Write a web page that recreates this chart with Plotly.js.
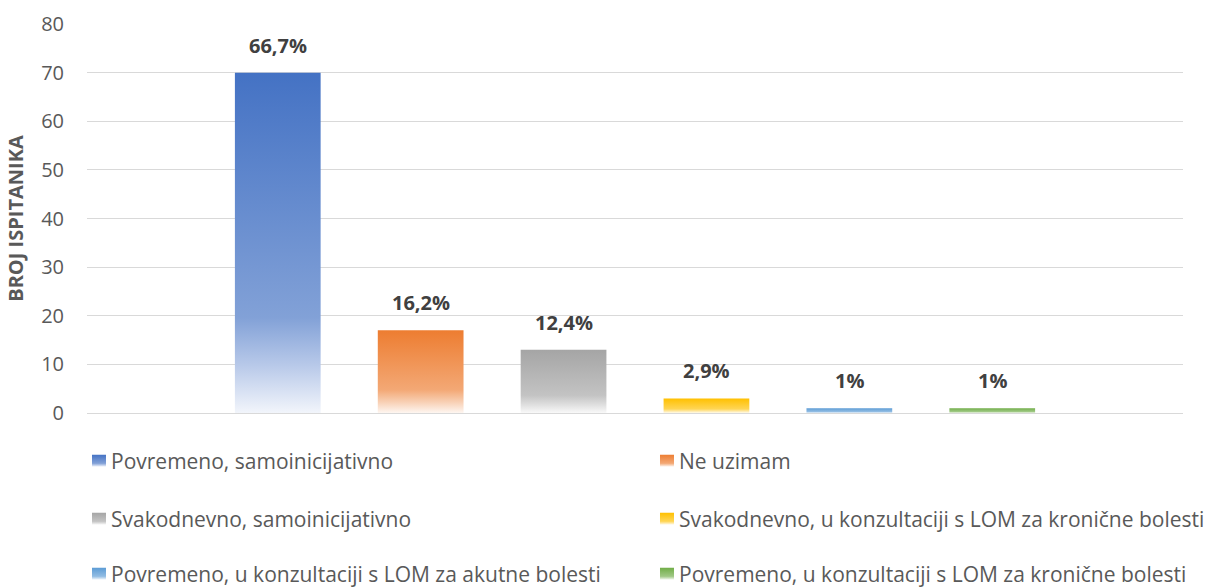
<!DOCTYPE html>
<html>
<head>
<meta charset="utf-8">
<script src="https://cdn.plot.ly/plotly-3.0.1.min.js"></script>
<style>
  html, body { margin: 0; padding: 0; background: #fff; }
  #chart { width: 1215px; height: 588px; }
</style>
</head>
<body>
<div id="chart"></div>
<script>
// ---- data ----
const seriesNames = [
  "Povremeno, samoinicijativno",
  "Ne uzimam",
  "Svakodnevno, samoinicijativno",
  "Svakodnevno, u konzultaciji s LOM za kronične bolesti",
  "Povremeno, u konzultaciji s LOM za akutne bolesti",
  "Povremeno, u konzultaciji s LOM za kronične bolesti"
];
const seriesValues = [70, 17, 13, 3, 1, 1];
const percentLabels = ["66,7%", "16,2%", "12,4%", "2,9%", "1%", "1%"];
const seriesColors = ["#4472C4", "#ED7D31", "#A5A5A5", "#FFC000", "#5B9BD5", "#70AD47"];
const yTickValues = [0, 10, 20, 30, 40, 50, 60, 70, 80];
const yAxisTitle = "BROJ ISPITANIKA";

const FONT = "'Open Sans', 'Noto Sans', sans-serif";
const legendIds = ["legend", "legend", "legend2", "legend2", "legend3", "legend3"];

const traces = seriesNames.map((name, i) => ({
  type: "bar",
  name: name,
  x: [name],
  y: [seriesValues[i]],
  width: 0.6,
  marker: { color: seriesColors[i], line: { width: 0 } },
  legend: legendIds[i],
  hoverinfo: "skip"
}));

const annotations = seriesNames.map((name, i) => ({
  x: name,
  y: seriesValues[i],
  xref: "x",
  yref: "y",
  text: "<b>" + percentLabels[i] + "</b>",
  showarrow: false,
  yanchor: "bottom",
  yshift: 12,
  font: { family: FONT, size: 20, color: "#404040" }
}));

const legendBase = {
  orientation: "h",
  xanchor: "left",
  yanchor: "middle",
  x: -0.0146,
  entrywidth: 523,
  entrywidthmode: "pixels",
  font: { family: FONT, size: 21, color: "#595959" },
  bgcolor: "rgba(0,0,0,0)",
  itemclick: false,
  itemdoubleclick: false
};

const layout = {
  width: 1215,
  height: 588,
  margin: { l: 87, r: 32, t: 24, b: 175, autoexpand: false },
  paper_bgcolor: "#ffffff",
  plot_bgcolor: "#ffffff",
  barmode: "overlay",
  showlegend: true,
  xaxis: {
    type: "category",
    categoryorder: "array",
    categoryarray: seriesNames,
    range: [-1.335, 6.335],
    showticklabels: false,
    showgrid: false,
    zeroline: false,
    showline: false,
    ticks: "",
    fixedrange: true
  },
  yaxis: {
    range: [0, 80],
    tickvals: yTickValues,
    ticktext: yTickValues.map(String),
    showgrid: true,
    gridcolor: "#D9D9D9",
    gridwidth: 1,
    zeroline: true,
    zerolinecolor: "#D9D9D9",
    zerolinewidth: 1,
    showline: false,
    ticks: "",
    ticklabelstandoff: 22,
    tickfont: { family: FONT, size: 20, color: "#595959" },
    automargin: true,
    title: {
      text: "<b>" + yAxisTitle + "</b>",
      font: { family: FONT, size: 20, color: "#595959" },
      standoff: 12
    },
    fixedrange: true
  },
  legend: Object.assign({}, legendBase, { y: -0.1234 }),
  legend2: Object.assign({}, legendBase, { y: -0.2725 }),
  legend3: Object.assign({}, legendBase, { y: -0.4139 }),
  annotations: annotations
};

function mix(hex, t) {
  const r = parseInt(hex.slice(1, 3), 16), g = parseInt(hex.slice(3, 5), 16), b = parseInt(hex.slice(5, 7), 16);
  const f = c => Math.round(c + (255 - c) * t);
  return "rgb(" + f(r) + "," + f(g) + "," + f(b) + ")";
}

function applyGradients(gd) {
  const svg = gd.querySelector("svg.main-svg");
  const NS = "http://www.w3.org/2000/svg";
  let defs = svg.querySelector("defs");
  if (!defs) { defs = document.createElementNS(NS, "defs"); svg.insertBefore(defs, svg.firstChild); }
  seriesColors.forEach((c, i) => {
    const lg = document.createElementNS(NS, "linearGradient");
    lg.setAttribute("id", "barGrad" + i);
    lg.setAttribute("x1", "0"); lg.setAttribute("y1", "0");
    lg.setAttribute("x2", "0"); lg.setAttribute("y2", "1");
    const stops = [[0, 0], [0.72, 0.33], [0.86, 0.62], [1, 0.93]];
    stops.forEach(([off, t]) => {
      const s = document.createElementNS(NS, "stop");
      s.setAttribute("offset", off);
      s.setAttribute("stop-color", mix(c, t));
      lg.appendChild(s);
    });
    defs.appendChild(lg);
  });
  gd.querySelectorAll(".barlayer .trace").forEach((tr, i) => {
    tr.querySelectorAll("path").forEach(p => { p.style.fill = "url(#barGrad" + i + ")"; });
  });
  gd.querySelectorAll(".legendpoints").forEach(g => {
    let tr = g.parentNode;
    while (tr && !(tr.classList && tr.classList.contains("traces"))) tr = tr.parentNode;
    if (!tr) return;
    const d = tr.__data__;
    const idx = d && d[0] && d[0].trace ? d[0].trace.index : null;
    if (idx === null || idx === undefined) return;
    g.querySelectorAll("path").forEach(p => {
      p.style.fill = "url(#barGrad" + idx + ")";
      p.setAttribute("d", "M7,6H-7V-6H7Z");
    });
    const t = g.getAttribute("transform") || "";
    g.setAttribute("transform", "translate(8,0) " + t);
  });
}

const gd = document.getElementById("chart");
Plotly.newPlot(gd, traces, layout, { displayModeBar: false, staticPlot: true }).then(() => applyGradients(gd));
</script>
</body>
</html>
